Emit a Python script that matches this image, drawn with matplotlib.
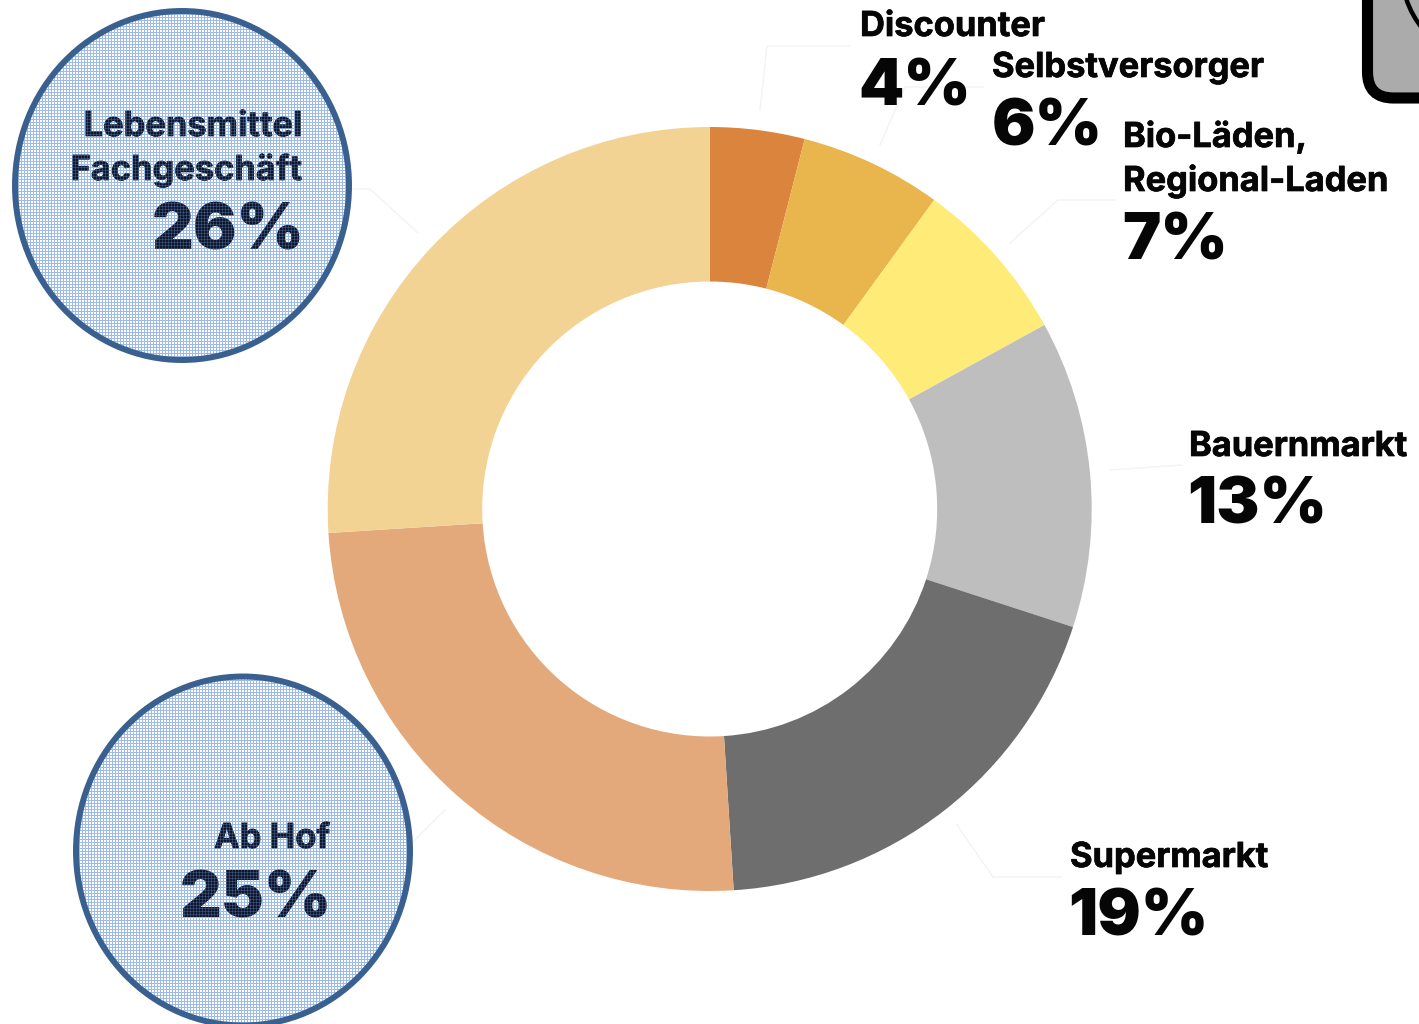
import numpy as np
import matplotlib
matplotlib.use("Agg")
import matplotlib.pyplot as plt
import matplotlib.patheffects as pe
from matplotlib.patches import Ellipse, FancyBboxPatch, PathPatch
from matplotlib.path import Path

FONT = "Inter"
INK = "#060606"
NAVY = "#0b1730"

channels = ["Discounter", "Selbstversorger", "Bio-Läden,\nRegional-Laden", "Bauernmarkt",
            "Supermarkt", "Ab Hof", "Lebensmittel\nFachgeschäft"]
shares = [4, 6, 7, 13, 19, 25, 26]
colors = ["#db843d", "#e9b64d", "#ffec78", "#bebebe", "#6e6e6e", "#e3a97a", "#f2d394"]

fig = plt.figure(figsize=(14.19, 10.24), dpi=100)
ax = fig.add_axes([0, 0, 1, 1])

# y runs downwards here, so startangle -90 puts the first slice at 12 o'clock going clockwise
ax.pie(shares, colors=colors, center=(709.7, 509), radius=382, startangle=-90,
       wedgeprops=dict(width=154.5, linewidth=0))
ax.set_xlim(0, 1419)
ax.set_ylim(1024, 0)
ax.set_aspect("auto")
ax.axis("off")

# thin leader lines from the ring to the labels
leaders = [
    ([760, 767, 850], [110, 46, 46]),
    ([880, 905, 983], [145, 87, 87]),
    ([1010, 1058, 1115], [243, 200, 200]),
    ([1110, 1182], [470, 465]),
    ([957, 993, 1062], [825, 877, 877]),
    ([418, 370, 352], [233, 189, 189]),
    ([445, 413], [810, 842]),
]
for lx, ly in leaders:
    ax.plot(lx, ly, color="#f3f3f3", lw=1.0, zorder=1)


def bubble(cx, cy, w, h):
    # white disc with a fine blue raster, partly repeated on top of the text
    disc = Ellipse((cx, cy), w, h, facecolor="white", edgecolor="none", zorder=2)
    ax.add_patch(disc)
    xs = np.arange(cx - w / 2, cx + w / 2, 3)
    ys = np.arange(cy - h / 2, cy + h / 2, 3)
    for z, alpha in [(2.5, 1.0), (4, 0.22)]:
        v = ax.vlines(xs, cy - h / 2, cy + h / 2, color="#9dbbe8", lw=0.72, alpha=alpha, zorder=z)
        g = ax.hlines(ys, cx - w / 2, cx + w / 2, color="#9dbbe8", lw=0.72, alpha=alpha, zorder=z)
        v.set_clip_path(disc)
        g.set_clip_path(disc)
    ax.add_patch(Ellipse((cx, cy), w, h, facecolor="none", edgecolor="#3a6090", lw=4.3, zorder=5))


bubble(182, 185.5, 334, 349)
bubble(243, 851, 334, 349)


def name(x, y, s, color=INK, ha="left"):
    ax.text(x, y, s, fontsize=24.8, fontweight="bold", color=color, ha=ha, va="baseline",
            family=FONT, zorder=3,
            path_effects=[pe.withStroke(linewidth=0.5, foreground=color)])


def share(x, y, value, color=INK, ha="left"):
    ax.text(x, y, f"{value}%", fontsize=46.5, fontweight="black", color=color, ha=ha, va="baseline",
            family=FONT, zorder=3)


# outside labels: name(s) and share, anchored at their left edge
name(860, 36, channels[0])
share(858, 106, shares[0])
name(992, 77, channels[1])
share(992, 146, shares[1])
bio, regional = channels[2].split("\n")
name(1123, 147, bio)
name(1123, 191, regional)
share(1122, 259, shares[2])
name(1189, 456, channels[3])
share(1187, 524, shares[3])
name(1070, 867, channels[4])
share(1068, 935, shares[4])

# labels inside the two highlighted bubbles
food, shop = channels[6].split("\n")
name(302, 136, food, color=NAVY, ha="right")
name(302, 180, shop, color=NAVY, ha="right")
share(305, 249, shares[6], color=NAVY, ha="right")
name(330, 848, channels[5], color=NAVY, ha="right")
share(332, 917, shares[5], color=NAVY, ha="right")

# corner of the icon that runs off the top right edge
ax.add_patch(FancyBboxPatch((1367.5, -60), 140, 158, boxstyle="round,pad=0,rounding_size=26",
                            facecolor="#ababab", edgecolor="black", lw=8, zorder=2))
curve = Path([(1406, -2), (1411, 15), (1425, 32)], [Path.MOVETO, Path.CURVE3, Path.CURVE3])
ax.add_patch(PathPatch(curve, facecolor="none", edgecolor="black", lw=3.2, zorder=3))

fig.savefig("out.png", dpi=100)
